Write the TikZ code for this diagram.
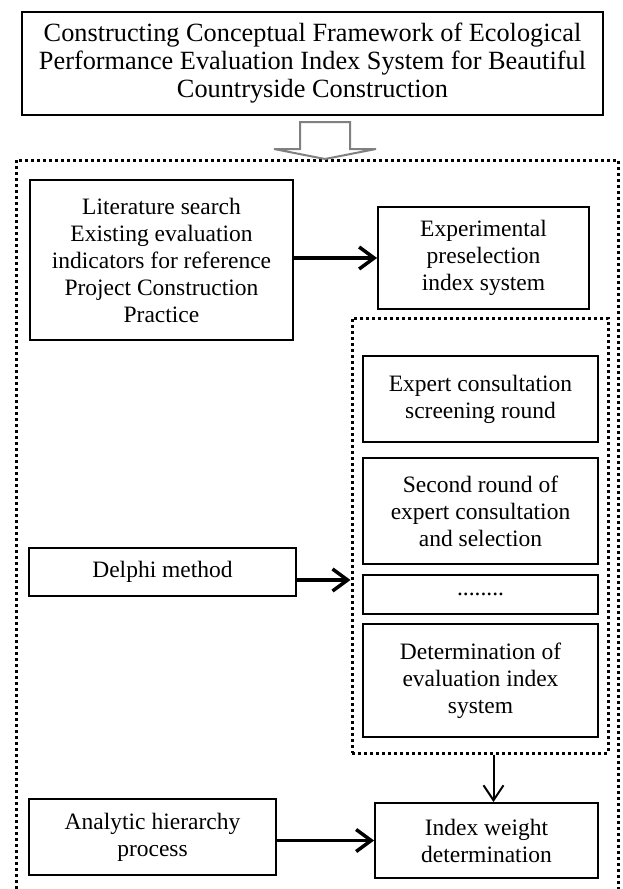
\documentclass[tikz,border=0pt]{standalone}
\usepackage{fontspec}
\setmainfont{Liberation Serif}
\usetikzlibrary{arrows.meta}

\tikzset{
  stage/.style={draw, line width=1.8pt, align=center, inner sep=0pt,
    font=\fontsize{23.5}{27}\selectfont},
  frame/.style={draw, line width=3pt, dash pattern=on 3pt off 3pt},
  link/.style={line width=3.5pt, -{Straight Barb[length=15pt, width=22pt]}},
  drop/.style={line width=2pt, -{Straight Barb[length=15pt, width=20pt]}}
}

\begin{document}
\begin{tikzpicture}[x=1pt, y=-1pt]
  \useasboundingbox (0,0) rectangle (622,889);
  \path node (title) at (312.5,63.5) [stage, minimum width=581pt, minimum height=103pt,
            font=\fontsize{26.3}{28}\selectfont]
          {Constructing Conceptual Framework of Ecological\\Performance Evaluation Index System for Beautiful\\Countryside Construction}
        node (lit)   at (161.5,260) [stage, minimum width=263pt, minimum height=160pt]
          {Literature search\\Existing evaluation\\indicators for reference\\Project Construction\\Practice}
        node (pre)   at (483.5,258) [stage, minimum width=211pt, minimum height=102pt]
          {Experimental\\preselection\\index system}
        node (rounds) at (480,535.5) [frame, minimum width=256pt, minimum height=435pt] {}
        node (r1)    at (480.5,399) [stage, minimum width=235pt, minimum height=86pt]
          {Expert consultation\\screening round}
        node (r2)    at (480.5,511) [stage, minimum width=235pt, minimum height=106pt]
          {Second round of\\expert consultation\\and selection}
        node (rn)    at (480.5,594.5) [stage, minimum width=235pt, minimum height=39pt]
          {........}
        node (final) at (480.5,680.5) [stage, minimum width=235pt, minimum height=113pt]
          {Determination of\\evaluation index\\system}
        node (delphi) at (162.5,572) [stage, minimum width=267pt, minimum height=48pt]
          {Delphi method}
        node (ahp)   at (152.5,837) [stage, minimum width=247pt, minimum height=76pt]
          {Analytic hierarchy\\process}
        node (weight) at (486.5,840.5) [stage, minimum width=223pt, minimum height=75pt]
          {Index weight\\determination};

  \draw[frame] (16,889) -- (16,160) -- (618,160) -- (618,889);
  \draw[gray, line width=2pt, line join=miter]
    (300,122) -- (300,149) -- (274,149) -- (325,159) -- (376,149) -- (350,149) -- (350,122) -- cycle;

  \draw[link] (lit.east |- pre.west) -- (pre.west);
  \draw[link] ([yshift=-8pt]delphi.east) -- ([yshift=-8pt]delphi.east -| rounds.west);
  \draw[drop] ([xshift=7pt]rounds.south -| weight.north) -- ([xshift=7pt]weight.north);
  \draw[link] (ahp.east |- weight.west) -- (weight.west);
\end{tikzpicture}
\end{document}
